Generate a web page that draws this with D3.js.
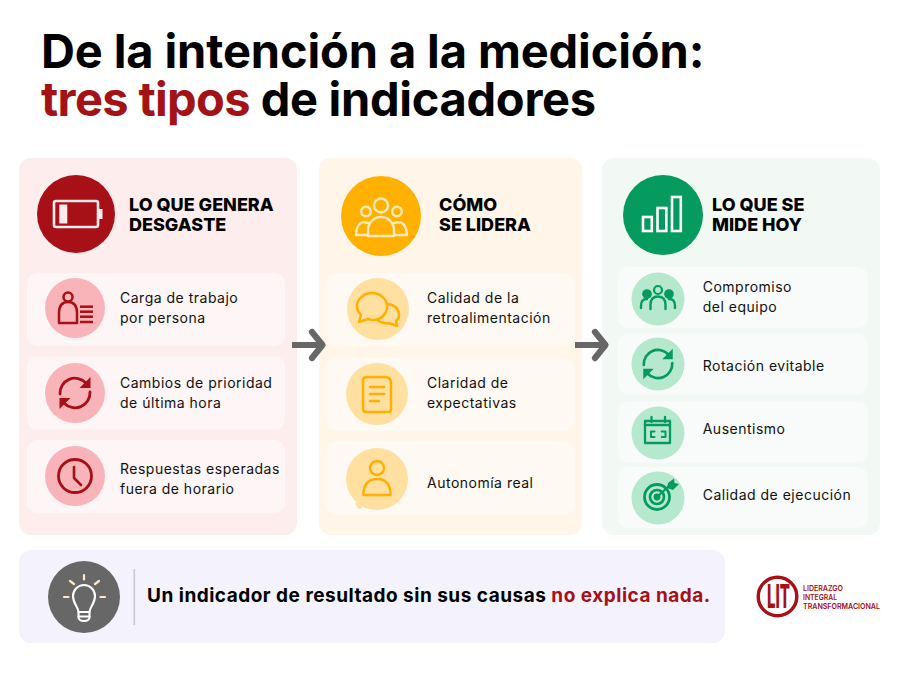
<!DOCTYPE html>
<html lang="es"><head><meta charset="utf-8">
<script src="https://d3js.org/d3.v7.min.js"></script>
<style>html,body{margin:0;background:#fff}svg{display:block}text{font-family:Inter,"Noto Sans",sans-serif}</style>
</head><body><svg id="c" width="900" height="675" viewBox="0 0 900 675"></svg>
<script>
// ---- content ----
const titleLine1 = ["De la intención a la medición:"];
const titleLine2 = ["tres tipos", " de indicadores"];
const headers = [["LO QUE GENERA","DESGASTE"],["CÓMO","SE LIDERA"],["LO QUE SE","MIDE HOY"]];
const causes = [["Carga de trabajo","por persona"],["Cambios de prioridad","de última hora"],["Respuestas esperadas","fuera de horario"]];
const leadership = [["Calidad de la","retroalimentación"],["Claridad de","expectativas"],["Autonomía real"]];
const measures = [["Compromiso","del equipo"],["Rotación evitable"],["Ausentismo"],["Calidad de ejecución"]];
const noteBlack = ["Un indicador de resultado sin sus causas "];
const noteRed = ["no explica nada."];
const logoLines = ["LIDERAZGO","INTEGRAL","TRANSFORMACIONAL"];
const logoMark = ["LIT"];
const barIconValues = [14,23,34];
const iconsCauses = ["personList","cycle","clock"];
const iconsLeadership = ["chat","doc","person"];
const iconsMeasures = ["team","cycle","calendar","target"];

// ---- layout & style (separate from content) ----
const RED="#a61016", AMBER="#ffb000", GREEN="#059b5e", GREY="#676767";
const panels=[
 {x:19,w:278,fill:"#feeded",rowFill:"#fef5f6",main:RED,soft:"#f9b4ba",ink:"#a61016",headInk:"#fdeaea",hc:[76,214,39],hx:129,
  rx:[27,285],ry:[309.5,393,476.5],rh:73,cx:[75,75,75],cy:[308,393,476],r:30,tx:120,ty:[307.5,393,479],items:causes,icons:iconsCauses,head:"battery"},
 {x:319,w:263,fill:"#fff5e8",rowFill:"#fefaf3",main:AMBER,soft:"#ffe0a0",ink:"#ffb000",headInk:"#ffe9b8",hc:[381,216,40],hx:439,
  rx:[326,575],ry:[309.5,394.5,478],rh:73,cx:[378,377,377],cy:[309,394,479],r:31,tx:427,ty:[307.5,393,483],items:leadership,icons:iconsLeadership,head:"group"},
 {x:602,w:278,fill:"#f2f8f4",rowFill:"#f8fbf9",main:GREEN,soft:"#b6e8cd",ink:"#059b5e",headInk:"#fff",hc:[663,215,40],hx:712,
  rx:[618,868],ry:[297.5,364,432,497.5],rh:61,cx:[658,658,658,658],cy:[299,364,433,498],r:26.5,tx:702.7,ty:[297,366,429,495],items:measures,icons:iconsMeasures,head:"bars"}
];
const svg=d3.select("#c");
const ITEM={size:14,weight:400,ls:"0.5px"}, HEAD={size:18,weight:800,ls:"0px"};

// ---- title ----
const t=svg.append("g").attr("font-size",47).attr("font-weight",700).attr("fill","#000");
t.append("text").attr("x",41).attr("y",68).attr("letter-spacing","-0.12px").text(titleLine1[0]);
const t2=t.append("text").attr("x",41).attr("y",116);
t2.append("tspan").attr("fill","#a31217").attr("letter-spacing","-0.65px").text(titleLine2[0]);
t2.append("tspan").attr("xml:space","preserve").attr("letter-spacing","-0.3px").text(titleLine2[1]);

// ---- icons (local coords, centred on 0,0) ----
function line(g,d,c,w){return g.append("path").attr("d",d).attr("fill","none").attr("stroke",c).attr("stroke-width",w||2.5).attr("stroke-linecap","round").attr("stroke-linejoin","round");}
function solid(g,d,c){return g.append("path").attr("d",d).attr("fill",c);}
function disc(g,x,y,r,c,w,fill){return g.append("circle").attr("cx",x).attr("cy",y).attr("r",r).attr("fill",fill||"none").attr("stroke",c).attr("stroke-width",w||2.5);}
const icons={
 battery(g,c){line(g,"M-20 -13H20Q22 -13 22 -11V11Q22 13 20 13H-20Q-22 13 -22 11V-11Q-22 -13 -20 -13Z",c,2.6);
   solid(g,"M-16.7 -9.5H-8.7V9.5H-16.7Z",c);solid(g,"M23 -5H26.5V5H23Z",c);},
 group(g,c){disc(g,0,-10.5,7,c);disc(g,-15,-4.5,4.8,c);disc(g,16,-4.5,4.8,c);
   line(g,"M-13 20V14A13 13 0 0 1 13 14V20Z",c);line(g,"M-13 7Q-24 3 -25 19H-14",c,2.4);line(g,"M13 7Q25 3 26 19H14",c,2.4);},
 bars(g,c){const y=d3.scaleLinear().domain([0,34]).range([16,-18]);
   g.selectAll("rect.b").data(barIconValues).join("rect").attr("class","b").attr("x",(d,i)=>-20+i*14.5).attr("y",d=>y(d)).attr("width",8.8).attr("height",d=>y(0)-y(d)).attr("fill","none").attr("stroke",c).attr("stroke-width",2.6);},
 personList(g,c){disc(g,-7,-11,4.5,c,2.5);line(g,"M-16 15V5Q-16 -6 -7 -6Q2 -6 2 5V15Z",c,2.5);
   [-1.3,3.7,8.7,14].forEach(y=>g.append("rect").attr("x",5).attr("y",y-1.25).attr("width",13).attr("height",2.5).attr("fill",c));},
 cycle(g,c,k){k=k||1;const p=g.append("g").attr("transform",`scale(${k})`);
   line(p,"M-15 1A15 15 0 0 1 11 -10",c,2.8);line(p,"M15 -1A15 15 0 0 1 -11 10",c,2.8);
   solid(p,"M15.5 -16V-5H4.5Z",c);solid(p,"M-15.5 16V5H-4.5Z",c);},
 clock(g,c){disc(g,0,0,16.5,c,2.8);line(g,"M-1 -9V2L6 9",c,2.6);},
 chat(g,c){line(g,"M-6 -16C-14 -16 -21 -10 -21 -3C-21 1 -19 4 -17 6L-19 13L-10 10C-8 10.5 -7 11 -5 11C3 11 9 5 9 -3C9 -10 2 -16 -6 -16Z",c,2.5);
   line(g,"M9 -5C16 -5 21 0 21 6C21 9 20 11 18 12L19 17L11 14C7 15 2 13 -1 11",c,2.5);},
 doc(g,c){line(g,"M-10 -17H8Q14 -17 14 -11V15Q14 18 11 18H-11Q-14 18 -14 15V-14Q-14 -17 -10 -17Z",c,2.5);
   line(g,"M-7 -7H7M-7 0H7M-7 7H2",c,2.4);},
 person(g,c){disc(g,0,-11,7,c,2.5);line(g,"M-13.5 16H13.5Q13.5 0 0 0Q-13.5 0 -13.5 16Z",c,2.5);},
 team(g,c){disc(g,0,-9,4,c,2.2);disc(g,-11,-5,3.6,c,0,c);disc(g,11,-5,3.6,c,0,c);
   line(g,"M-7.5 10V6Q-7.5 -2.5 0 -2.5Q7.5 -2.5 7.5 6V10",c,2.4);line(g,"M-17 9V7Q-17 0 -11 0",c,2.4);line(g,"M17 9V7Q17 0 11 0",c,2.4);},
 calendar(g,c){line(g,"M-13 -12H12V10H-13Z",c,2.3);line(g,"M-13 -8H12",c,2.3);
   line(g,"M-6.5 -16V-11M7 -16V-11",c,2.3);line(g,"M-3.5 -1.5H-7V4H-3.5M3.7 -1.5H7.5V4H3.7",c,2);},
 target(g,c){disc(g,-1,-1,12.5,c,2.8);disc(g,-1,-1,7,c,2.7);disc(g,-1,-1,2.2,c,0,c);
   line(g,"M-1 -1L11 -12",c,2.3);solid(g,"M9 -10L10 -15L16 -19.5L16.5 -15L21 -14L15 -8Z",c);},
 bulb(g,c,ray){line(g,"M-5.5 15C-5.5 10 -11 7 -11 -1A11 11 0 0 1 11 -1C11 7 5.5 10 5.5 15V20Q5.5 24 0 24Q-5.5 24 -5.5 20Z",c,2.1);
   line(g,"M-5.5 15H5.5M-5.5 19.5H5.5",c,2.1);
   line(g,"M-20 0H-15.5M16.5 0H21",ray,2.2);line(g,"M0 -22V-17.5",ray,2.2);line(g,"M-14 -16L-10 -13M15 -16L11 -13",ray,2.2);}
};

// ---- panels ----
panels.forEach((p,pi)=>{
 const g=svg.append("g");
 g.append("rect").attr("x",p.x).attr("y",158).attr("width",p.w).attr("height",377).attr("rx",12).attr("fill",p.fill);
 g.append("circle").attr("cx",p.hc[0]).attr("cy",p.hc[1]).attr("r",p.hc[2]).attr("fill",p.main);
 icons[p.head](g.append("g").attr("transform",`translate(${p.hc[0]},${p.hc[1]})`),p.headInk);
 const hd=g.append("g").attr("font-size",HEAD.size).attr("font-weight",HEAD.weight).attr("letter-spacing",HEAD.ls).attr("fill","#000");
 hd.selectAll("text").data(headers[pi]).join("text").attr("x",p.hx).attr("y",(d,i)=>211+i*20).text(d=>d);
 const rows=g.selectAll("g.row").data(p.items).join("g").attr("class","row");
 rows.append("rect").attr("x",p.rx[0]).attr("y",(d,i)=>p.ry[i]-p.rh/2).attr("width",p.rx[1]-p.rx[0]).attr("height",p.rh).attr("rx",10).attr("fill",p.rowFill);
 rows.append("circle").attr("cx",(d,i)=>p.cx[i]).attr("cy",(d,i)=>p.cy[i]).attr("r",p.r).attr("fill",p.soft);
 rows.each(function(d,i){
   const ic=d3.select(this).append("g").attr("transform",`translate(${p.cx[i]},${p.cy[i]})`);
   icons[p.icons[i]](ic,p.ink,pi===2&&p.icons[i]==="cycle"?0.95:1);
   d3.select(this).selectAll("text").data(d).join("text")
     .attr("x",p.tx).attr("font-size",ITEM.size).attr("font-weight",ITEM.weight).attr("letter-spacing",ITEM.ls).attr("fill","#111")
     .attr("y",(s,j)=>p.ty[i]+5+(d.length>1?(j-0.5)*20:0)).text(s=>s);
 });
});
// amber bubble notch
svg.append("path").attr("d","M356 503L361 507L359 508Z").attr("fill","#ffe0a0").attr("stroke","#ffe0a0").attr("stroke-width",2);

// ---- arrows ----
[[292,345],[575,345]].forEach(([x,y])=>{
 const a=svg.append("g").attr("transform",`translate(${x},${y})`);
 a.append("path").attr("d","M0 0H28").attr("fill","none").attr("stroke",GREY).attr("stroke-width",6);
 line(a,"M20 -13L30.5 0L20 13",GREY,6.2);
});

// ---- note ----
const n=svg.append("g");
n.append("rect").attr("x",19).attr("y",550).attr("width",706).attr("height",93).attr("rx",12).attr("fill","#f4f3fd");
n.append("circle").attr("cx",84).attr("cy",597).attr("r",36).attr("fill",GREY);
icons.bulb(n.append("g").attr("transform","translate(84,597)"),"#fff","#ffe9c9");
n.append("rect").attr("x",133.5).attr("y",569).attr("width",1.6).attr("height",56).attr("fill","#c9c9cd");
const nt=n.append("text").attr("x",147).attr("y",601.5).attr("font-size",19).attr("font-weight",700).attr("letter-spacing","0.5px").attr("fill","#000");
nt.append("tspan").attr("xml:space","preserve").text(noteBlack[0]);
nt.append("tspan").attr("fill",RED).text(noteRed[0]);

// ---- logo ----
const l=svg.append("g");
l.append("circle").attr("cx",777.5).attr("cy",596.5).attr("r",19.3).attr("fill","#fff").attr("stroke",RED).attr("stroke-width",3.4);
l.append("text").attr("x",767).attr("y",608).attr("font-size",32).attr("font-weight",800).attr("fill",RED).attr("textLength",23).attr("lengthAdjust","spacingAndGlyphs").text(logoMark[0]);
l.selectAll("text.ll").data(logoLines).join("text").attr("class","ll").attr("x",803).attr("y",(d,i)=>591+i*9).attr("font-size",7.8).attr("font-weight",600).attr("fill",RED).attr("textLength",(d,i)=>[40,34,77][i]).attr("lengthAdjust","spacingAndGlyphs").text(d=>d);
</script></body></html>
